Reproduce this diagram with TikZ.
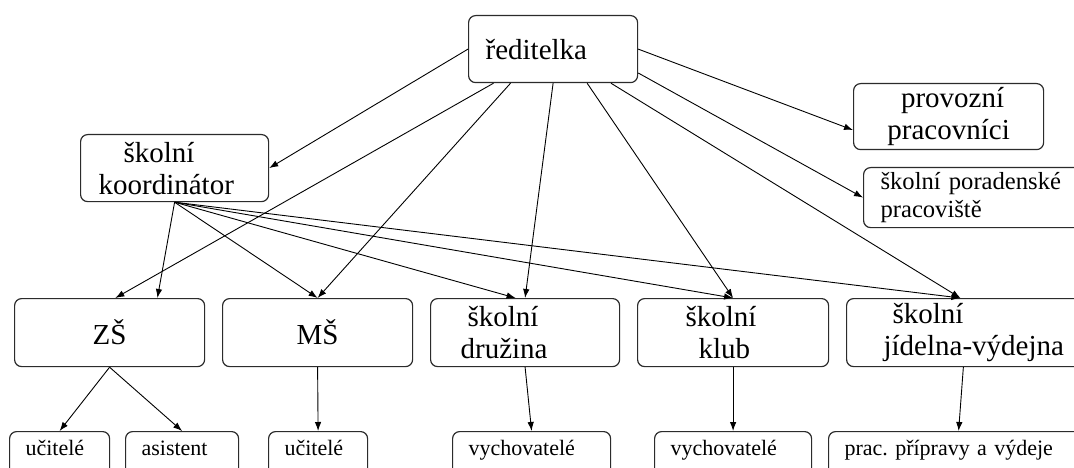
\documentclass[tikz,border=0pt]{standalone}
\usepackage{fontspec}
\setmainfont{Liberation Serif}
\frenchspacing
\usetikzlibrary{arrows.meta,calc}
\definecolor{boxline}{HTML}{2B2B2B}
\tikzset{box/.style={draw=boxline,line width=1.2pt,rounded corners=7pt,anchor=north west,inner ysep=0pt,font=\fontsize{29}{32}\selectfont},staff/.style={box,font=\fontsize{22}{25}\selectfont,align=left,inner xsep=16pt,inner ysep=9pt,text height=15pt,text depth=15pt},arr/.style={-{Latex[length=9pt,width=6.5pt]},line width=0.9pt}}

\begin{document}
\begin{tikzpicture}[x=1pt,y=-1pt]
\useasboundingbox (0,0) rectangle (1074,468);
\clip (0,0) rectangle (1074,468);
\node[box,minimum height=67pt,text width=135pt,inner xsep=17pt,align=left] (red) at (468,15) {ředitelka};
\node[box,minimum height=67pt,text width=152pt,inner xsep=18pt,align=left] (kor) at (80,134) {\hspace*{25pt}školní\\koordinátor};
\node[box,minimum height=66pt,text width=170pt,inner xsep=10pt,align=center] (prov) at (853,83) {\hspace*{8pt}provozní\\pracovníci};
\node[box,minimum height=60pt,text width=206pt,inner xsep=17pt,align=left,font=\fontsize{24.6}{27.6}\selectfont] (por) at (863,167) {školní poradenské\\pracoviště};
\node[box,minimum height=68pt,text width=170pt,inner xsep=10pt,align=center] (zs) at (14,298) {ZŠ};
\node[box,minimum height=68pt,text width=170pt,inner xsep=10pt,align=center] (ms) at (222,298) {MŠ};
\node[box,minimum height=68pt,text width=129pt,inner xsep=30pt,align=left] (druz) at (430,298) {\hspace*{7pt}školní\\družina};
\node[box,minimum height=68pt,text width=95pt,inner xsep=48pt,align=left] (klub) at (637,298) {školní\\\hspace*{13pt}klub};
\node[box,minimum height=68pt,text width=216pt,inner xsep=37pt,align=left] (jid) at (846,298) {\hspace*{9pt}školní\\jídelna-výdejna};
\node[staff,text width=68pt] (uc1) at (9,431) {učitelé};
\node[staff,text width=81pt] (asis) at (125,431) {asistent};
\node[staff,text width=67pt] (uc2) at (268,431) {učitelé};
\node[staff,text width=126pt] (vych1) at (452,431) {vychovatelé};
\node[staff,text width=125pt] (vych2) at (654,431) {vychovatelé};
\node[staff,text width=228pt] (prac) at (828,431) {prac. přípravy a výdeje};
\draw[arr] (red.west) -- (kor.east);
\draw[arr] ($(red.south west)!.15!(red.south east)$) -- ($(zs.north west)!.53!(zs.north east)$);
\draw[arr] ($(red.south west)!.25!(red.south east)$) -- (ms.north);
\draw[arr] (red.south) -- (druz.north);
\draw[arr] ($(red.south west)!.70!(red.south east)$) -- (klub.north);
\draw[arr] ($(red.south west)!.84!(red.south east)$) -- ($(jid.north west)!.393!(jid.north east)$);
\draw[arr] (red.east) -- ($(prov.north west)!.7!(prov.south west)$);
\draw[arr] ($(red.north east)!.85!(red.south east)$) -- (por.west);
\draw[arr] (kor.south) -- ($(zs.north west)!.75!(zs.north east)$);
\draw[arr] (kor.south) -- (ms.north);
\draw[arr] (kor.south) -- ($(druz.north west)!.45!(druz.north east)$);
\draw[arr] (kor.south) -- (klub.north);
\draw[arr] (kor.south) -- ($(jid.north west)!.393!(jid.north east)$);
\draw[arr] (zs.south) -- (uc1.north);
\draw[arr] (zs.south) -- (asis.north);
\draw[arr] (ms.south) -- (uc2.north);
\draw[arr] (druz.south) -- (vych1.north);
\draw[arr] (klub.south) -- (vych2.north);
\draw[arr] ($(jid.south west)!.403!(jid.south east)$) -- (prac.north);
\end{tikzpicture}
\end{document}
